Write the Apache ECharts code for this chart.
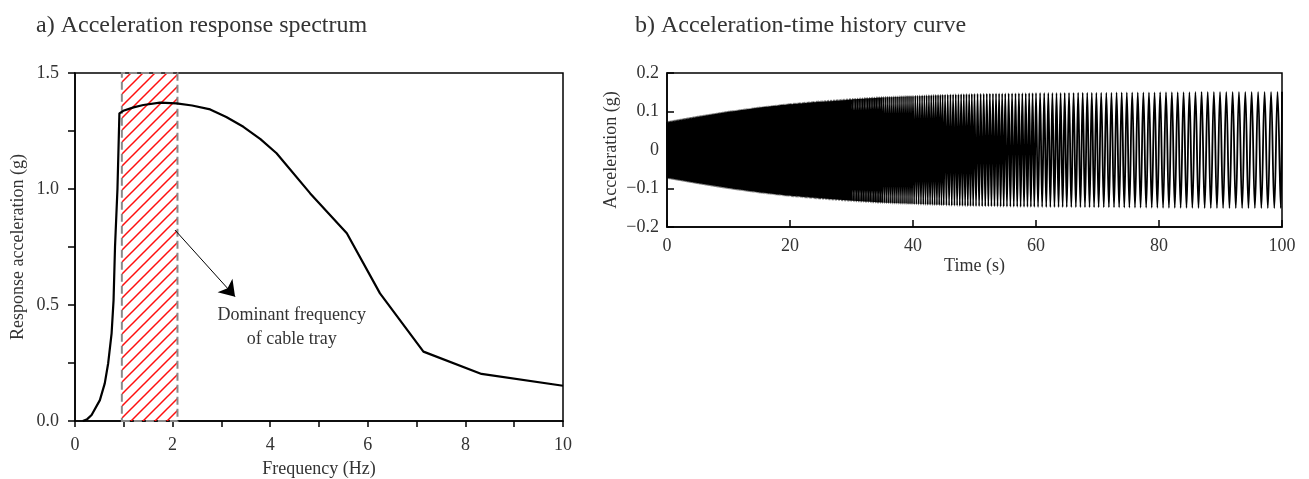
<!DOCTYPE html>
<html>
<head>
<meta charset="utf-8">
<script src="https://cdn.jsdelivr.net/npm/echarts@6/dist/echarts.min.js"></script>
<style>
html,body{margin:0;padding:0;background:#fff;}
#chart{width:1309px;height:479px;}
</style>
</head>
<body>
<div id="chart"></div>
<script>
// ---------- Data: (a) acceleration response spectrum ----------
const specFreq  = [0.16, 0.25, 0.34, 0.51, 0.61, 0.68, 0.75, 0.79, 0.82, 0.87, 0.91, 0.99, 1.20, 1.40, 1.74, 2.08, 2.40, 2.77, 3.10, 3.45, 3.80, 4.13, 4.82, 5.57, 6.25, 7.14, 8.33, 10.0];
const specAccel = [0.0, 0.008, 0.026, 0.09, 0.162, 0.249, 0.378, 0.52, 0.75, 1.0, 1.326, 1.337, 1.352, 1.362, 1.372, 1.369, 1.360, 1.343, 1.310, 1.268, 1.215, 1.154, 0.981, 0.809, 0.55, 0.299, 0.203, 0.152];
const bandFreq = [0.96, 2.10];          // dominant frequency band (Hz)
const bandAccel = [0, 1.5];
const arrowFrom = [2.05, 0.823];
const arrowTo   = [3.28, 0.536];
const noteAt    = [4.44, 0.403];
const noteText  = 'Dominant frequency\nof cable tray';
const specXTicks = [0, 2, 4, 6, 8, 10];
const specYTicks = ['0.0', '0.5', '1.0', '1.5'];

// ---------- Data: (b) acceleration-time history ----------
const envTime = [0, 5, 10, 15, 20, 25, 30, 35, 40, 45, 50, 60, 70, 80, 90, 100];
const envAmp  = [0.073, 0.087, 0.100, 0.111, 0.120, 0.127, 0.133, 0.138, 0.141, 0.144, 0.146, 0.148, 0.149, 0.150, 0.151, 0.151];
const segStart = [0, 5, 10, 15, 20, 25, 30, 35, 40, 45, 50, 55, 60, 65, 70, 75, 80, 85, 90, 95];
const segLen = 5;
// visible oscillation rate in each 5 s segment (cycles per 10 s)
const cyclesPer10s = [62, 60, 57, 54, 48, 42, 36, 31, 27, 23, 20, 18, 15, 13.5, 12, 11, 10.5, 10, 9.7, 9.5];
const timeTicks = [0, 20, 40, 60, 80, 100];
const accTicks = ['−0.2', '−0.1', '0', '0.1', '0.2'];

// envelope value at time t (between read envelope points)
function env(t) {
  for (let i = 0; i < envTime.length - 1; i++) {
    if (t <= envTime[i + 1]) {
      const f = (t - envTime[i]) / (envTime[i + 1] - envTime[i]);
      return envAmp[i] + f * (envAmp[i + 1] - envAmp[i]);
    }
  }
  return envAmp[envAmp.length - 1];
}
// alternating peaks of the oscillation, spaced by the read cycle rates
const wave = [];
(function () {
  let t = 0, sign = 1;
  for (let i = 0; i < segStart.length; i++) {
    const end = segStart[i] + segLen;
    const half = 10 / (2 * cyclesPer10s[i]);
    while (t < end - 1e-9) {
      wave.push([t, sign * env(t)]);
      sign = -sign;
      t += half;
    }
  }
  wave.push([100, sign * env(100)]);
})();

// hatch pattern (red diagonal lines)
function hatch() {
  const s = 12;
  const c = document.createElement('canvas');
  c.width = s; c.height = s;
  const g = c.getContext('2d');
  g.strokeStyle = '#ff1010';
  g.lineWidth = 1.5;
  g.beginPath();
  g.moveTo(-2, s + 2); g.lineTo(s + 2, -2);
  g.moveTo(-2, 2); g.lineTo(2, -2);
  g.moveTo(s - 2, s + 2); g.lineTo(s + 2, s - 2);
  g.stroke();
  return c;
}

const FONT = '"Liberation Serif", "DejaVu Serif", serif';
const TXT = '#333';
const TICK_FS = 18, NAME_FS = 18;

const chart = echarts.init(document.getElementById('chart'), null, {renderer: 'canvas'});
chart.setOption({
  animation: false,
  backgroundColor: '#fff',
  textStyle: {fontFamily: FONT},
  title: [
    {text: 'a) Acceleration response spectrum', left: 31, top: 9,
     textStyle: {fontFamily: FONT, fontSize: 24, fontWeight: 'normal', color: TXT}},
    {text: 'b) Acceleration-time history curve', left: 630, top: 9,
     textStyle: {fontFamily: FONT, fontSize: 24, fontWeight: 'normal', color: TXT}}
  ],
  grid: [
    {left: 75, top: 73, right: 746, bottom: 58, show: true, borderColor: '#000', borderWidth: 1.5, outerBoundsMode: 'none', containLabel: false},
    {left: 667, top: 73, right: 27, bottom: 252, show: true, borderColor: '#000', borderWidth: 1.5, outerBoundsMode: 'none', containLabel: false}
  ],
  xAxis: [
    {gridIndex: 0, type: 'value', min: 0, max: 10, interval: 1,
     name: 'Frequency (Hz)', nameLocation: 'middle', nameGap: 39,
     nameTextStyle: {fontFamily: FONT, fontSize: NAME_FS, color: TXT},
     axisLine: {onZero: false, lineStyle: {color: '#000', width: 1.5}},
     axisTick: {inside: false, length: 6, lineStyle: {color: '#000', width: 1.5}},
     axisLabel: {margin: 15, fontFamily: FONT, fontSize: TICK_FS, color: TXT,
       formatter: v => specXTicks.indexOf(Math.round(v)) >= 0 && Math.abs(v - Math.round(v)) < 1e-6 ? String(Math.round(v)) : ''},
     splitLine: {show: false}},
    {gridIndex: 1, type: 'value', min: 0, max: 100, interval: 20,
     name: 'Time (s)', nameLocation: 'middle', nameGap: 30,
     nameTextStyle: {fontFamily: FONT, fontSize: NAME_FS, color: TXT},
     axisLine: {onZero: false, lineStyle: {color: '#000', width: 1.5}},
     axisTick: {inside: true, length: 7, lineStyle: {color: '#000', width: 1.5}},
     axisLabel: {margin: 10, fontFamily: FONT, fontSize: TICK_FS, color: TXT,
       formatter: v => String(timeTicks[Math.round(v / 20)])},
     splitLine: {show: false}}
  ],
  yAxis: [
    {gridIndex: 0, type: 'value', min: 0, max: 1.5, interval: 0.25,
     name: 'Response acceleration (g)', nameLocation: 'middle', nameGap: 48,
     nameTextStyle: {fontFamily: FONT, fontSize: NAME_FS, color: TXT},
     axisLine: {onZero: false, lineStyle: {color: '#000', width: 1.5}},
     axisTick: {inside: false, length: 7, lineStyle: {color: '#000', width: 1.5}},
     axisLabel: {margin: 16, fontFamily: FONT, fontSize: TICK_FS, color: TXT,
       formatter: v => { const k = Math.round(v / 0.5); return Math.abs(v - k * 0.5) < 1e-6 ? specYTicks[k] : ''; }},
     splitLine: {show: false}},
    {gridIndex: 1, type: 'value', min: -0.2, max: 0.2, interval: 0.1,
     name: 'Acceleration (g)', nameLocation: 'middle', nameGap: 47,
     nameTextStyle: {fontFamily: FONT, fontSize: NAME_FS, color: TXT},
     axisLine: {onZero: false, lineStyle: {color: '#000', width: 1.5}},
     axisTick: {inside: true, length: 7, lineStyle: {color: '#000', width: 1.5}},
     axisLabel: {margin: 8, fontFamily: FONT, fontSize: TICK_FS, color: TXT,
       formatter: v => accTicks[Math.round((v + 0.2) / 0.1)]},
     splitLine: {show: false}}
  ],
  series: [
    {type: 'line', xAxisIndex: 0, yAxisIndex: 0, data: [], silent: true,
     markArea: {silent: true,
       itemStyle: {color: {image: hatch(), repeat: 'repeat'}, borderColor: '#8a8a8a', borderWidth: 2, borderType: [8, 4]},
       data: [[{coord: [bandFreq[0], bandAccel[0]]}, {coord: [bandFreq[1], bandAccel[1]]}]]}},
    {type: 'line', xAxisIndex: 0, yAxisIndex: 0, z: 5,
     data: specFreq.map((f, i) => [f, specAccel[i]]),
     showSymbol: false, smooth: false, lineStyle: {color: '#000', width: 2.2, join: 'round'},
     markLine: {silent: true, symbol: ['none', 'arrow'], symbolSize: 15,
       label: {show: false}, lineStyle: {color: '#000', width: 1, type: 'solid'},
       data: [[{coord: arrowFrom}, {coord: arrowTo}]]},
     markPoint: {silent: true, symbol: 'circle', symbolSize: 1, itemStyle: {color: 'rgba(0,0,0,0)'},
       label: {show: true, position: 'inside', formatter: noteText, fontFamily: FONT, fontSize: 18, lineHeight: 24, color: TXT},
       data: [{coord: noteAt}]}},
    {type: 'line', xAxisIndex: 1, yAxisIndex: 1, data: wave,
     showSymbol: false, sampling: 'none', smooth: 0.4, lineStyle: {color: '#000', width: 1.8}}
  ]
});
</script>
</body>
</html>
